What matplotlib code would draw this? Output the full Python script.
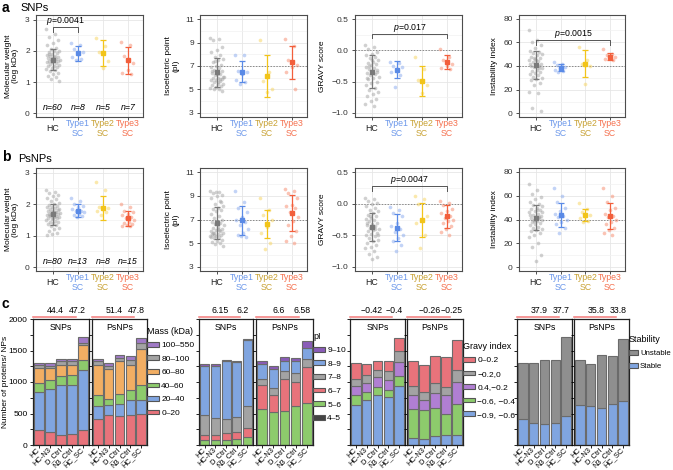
import matplotlib.pyplot as plt
import matplotlib.transforms as mtransforms
from matplotlib.patches import Patch
from matplotlib.ticker import MultipleLocator

plt.rcParams['font.family'] = ['Liberation Sans', 'DejaVu Sans']
plt.rcParams['mathtext.fontset'] = 'custom'
plt.rcParams['mathtext.it'] = 'Liberation Sans:italic'
plt.rcParams['mathtext.rm'] = 'Liberation Sans'

# ---------------- data: panels a / b (SNPs, PsNPs) ----------------
groups = ['HC', 'Type1\nSC', 'Type2\nSC', 'Type3\nSC']

mw_snps = [
    [2.7, 2.55, 2.45, 2.35, 2.25, 2.2, 2.1, 2.05, 2.0, 1.98, 1.95, 1.92, 1.9, 1.88, 1.85,
     1.82, 1.8, 1.78, 1.76, 1.75, 1.73, 1.72, 1.7, 1.68, 1.66, 1.65, 1.63, 1.6, 1.58, 1.55,
     1.52, 1.5, 1.47, 1.45, 1.42, 1.4, 1.35, 1.3, 1.25, 1.2, 1.15, 1.1, 1.05, 1.8, 1.9],
    [2.25, 2.2, 2.05, 1.95, 1.9, 1.8, 1.75, 1.72],
    [2.42, 2.15, 1.95, 1.68, 1.45],
    [2.27, 2.2, 1.85, 1.6, 1.4, 1.3, 1.25],
]
mw_snps_mean = [1.72, 1.93, 1.93, 1.70]
mw_snps_sd = [0.33, 0.24, 0.41, 0.43]

pi_snps = [
    [9.4, 9.3, 9.2, 8.6, 8.4, 8.2, 7.9, 7.8, 7.6, 7.5, 7.3, 7.1, 7.0, 6.9, 6.8, 6.7, 6.6,
     6.5, 6.4, 6.3, 6.2, 6.1, 6.0, 6.0, 5.9, 5.8, 5.8, 5.7, 5.6, 5.5, 5.5, 5.4, 5.3, 5.2,
     5.1, 5.0, 5.0, 4.9, 6.3, 6.6, 5.9, 7.4, 6.1, 5.6],
    [7.9, 7.9, 6.6, 6.5, 6.3, 5.8, 5.6, 5.5],
    [9.2, 6.5, 5.7, 5.0, 4.8],
    [9.3, 8.7, 7.5, 7.1, 6.9, 6.5, 5.0],
]
pi_snps_mean = [6.45, 6.5, 6.15, 7.3]
pi_snps_sd = [1.2, 0.9, 1.83, 1.43]

gravy_snps = [
    [0.08, 0.05, 0.02, -0.02, -0.05, -0.08, -0.1, -0.12, -0.15, -0.18, -0.2, -0.22, -0.24,
     -0.26, -0.28, -0.3, -0.32, -0.34, -0.36, -0.38, -0.4, -0.42, -0.44, -0.46, -0.5, -0.53,
     -0.56, -0.6, -0.63, -0.66, -0.7, -0.74, -0.78, -0.82, -0.86, -0.9, -0.25, -0.35, -0.15, -0.45],
    [-0.18, -0.2, -0.25, -0.27, -0.3, -0.35, -0.4, -0.58],
    [-0.1, -0.3, -0.48, -0.55, -0.68],
    [0.02, -0.1, -0.15, -0.22, -0.25, -0.28, -0.3],
]
gravy_snps_mean = [-0.34, -0.31, -0.49, -0.19]
gravy_snps_sd = [0.27, 0.14, 0.24, 0.11]

inst_snps = [
    [70, 62, 60, 58, 55, 53, 52, 51, 50, 49, 48, 47, 46, 45, 44, 43, 42, 41, 40, 40, 39, 38,
     37, 36, 35, 34, 33, 32, 31, 30, 29, 28, 26, 24, 18, 17, 5, 2, 45, 42, 38, 47],
    [43, 42, 41, 39, 38, 37, 36, 35],
    [56, 45, 42, 40, 25],
    [54, 50, 49, 48, 47, 46, 45],
]
inst_snps_mean = [41, 38.5, 42, 48]
inst_snps_sd = [12, 3, 11.5, 3]

mw_psnps = [
    [2.45, 2.4, 2.35, 2.3, 2.25, 2.2, 2.15, 2.1, 2.05, 2.0, 1.98, 1.95, 1.92, 1.9, 1.88, 1.85,
     1.83, 1.8, 1.78, 1.76, 1.75, 1.73, 1.72, 1.7, 1.68, 1.66, 1.65, 1.63, 1.62, 1.6, 1.58,
     1.56, 1.55, 1.52, 1.5, 1.48, 1.45, 1.42, 1.4, 1.38, 1.35, 1.3, 1.25, 1.2, 1.15, 1.1,
     1.05, 1.02, 1.75, 1.65, 1.85, 1.55],
    [2.2, 2.1, 2.0, 1.95, 1.9, 1.85, 1.8, 1.78, 1.75, 1.7, 1.65, 1.62, 1.6],
    [2.7, 2.45, 1.9, 1.88, 1.85, 1.8, 1.75, 1.65],
    [2.0, 1.9, 1.8, 1.75, 1.7, 1.65, 1.6, 1.55, 1.5, 1.45, 1.4, 1.38, 1.35, 1.32, 1.3],
]
mw_psnps_mean = [1.68, 1.8, 1.87, 1.55]
mw_psnps_sd = [0.33, 0.2, 0.38, 0.25]

pi_psnps = [
    [9.4, 9.3, 9.2, 9.1, 9.0, 8.8, 8.6, 8.3, 8.1, 8.0, 7.9, 7.8, 7.7, 7.5, 7.3, 7.1, 7.0,
     6.9, 6.8, 6.7, 6.6, 6.5, 6.4, 6.3, 6.2, 6.1, 6.0, 6.0, 5.9, 5.9, 5.8, 5.8, 5.7, 5.6,
     5.6, 5.5, 5.4, 5.3, 5.2, 5.1, 5.0, 4.9, 4.8, 6.2, 5.9, 8.5, 9.3, 5.5, 6.1, 5.7],
    [9.4, 8.5, 8.0, 7.6, 7.2, 7.0, 6.8, 6.5, 6.2, 5.9, 5.7, 5.5, 5.6],
    [8.8, 7.8, 7.4, 7.0, 6.4, 5.9, 5.0, 4.5],
    [9.6, 9.4, 9.2, 8.8, 8.2, 8.1, 8.0, 7.6, 7.2, 6.9, 6.5, 6.0, 5.6, 5.2, 5.0],
]
pi_psnps_mean = [6.7, 6.95, 6.6, 7.55]
pi_psnps_sd = [1.35, 1.22, 1.2, 1.55]

gravy_psnps = [
    [0.1, 0.08, 0.05, 0.02, 0.0, -0.03, -0.06, -0.1, -0.12, -0.15, -0.18, -0.2, -0.22, -0.24,
     -0.26, -0.28, -0.3, -0.32, -0.34, -0.36, -0.38, -0.4, -0.42, -0.44, -0.46, -0.48, -0.5,
     -0.52, -0.55, -0.58, -0.6, -0.62, -0.65, -0.68, -0.7, -0.75, -0.8, -0.85, -0.88, -0.3,
     -0.4, -0.2, -0.5, -0.35],
    [-0.05, -0.1, -0.15, -0.2, -0.3, -0.35, -0.4, -0.45, -0.5, -0.55, -0.6, -0.65, -0.75],
    [0.12, 0.07, 0.0, -0.2, -0.25, -0.3, -0.5, -0.7],
    [0.05, 0.02, -0.02, -0.08, -0.12, -0.15, -0.2, -0.22, -0.25, -0.27, -0.3, -0.35, -0.4,
     -0.45, -0.5],
]
gravy_psnps_mean = [-0.37, -0.38, -0.26, -0.2]
gravy_psnps_sd = [0.23, 0.22, 0.27, 0.18]

inst_psnps = [
    [70, 65, 61, 59, 57, 55, 53, 52, 51, 50, 49, 48, 47, 46, 45, 44, 43, 42, 41, 41, 40, 40,
     39, 38, 37, 36, 35, 34, 33, 32, 31, 30, 29, 27, 25, 20, 17, 10, 5, 44, 42, 39, 46, 48],
    [66, 60, 55, 50, 47, 45, 43, 42, 40, 38, 36, 33, 29],
    [54, 49, 46, 44, 43, 41, 39, 38],
    [66, 60, 55, 50, 48, 45, 43, 42, 40, 38, 36, 33, 31, 29, 27],
]
inst_psnps_mean = [41.5, 44, 44, 43]
inst_psnps_sd = [10.5, 10, 5, 11]

n_snps = [60, 8, 5, 7]
n_psnps = [80, 13, 8, 15]

# ---------------- data: panel c ----------------
conditions = ['HC', 'HC-N3', 'D_Ctrl', 'N3_Ctrl', 'HC_SC']

mass_bins = ['0–20', '20–40', '40–60', '60–80', '80–100', '100–550']
mass_snps = [[240, 208, 164, 175, 235],
             [598, 677, 792, 770, 960],
             [143, 153, 137, 159, 162],
             [236, 181, 180, 169, 231],
             [46, 38, 55, 55, 35],
             [40, 38, 38, 38, 87]]
mass_psnps = [[410, 475, 454, 481, 492],
              [202, 153, 191, 229, 218],
              [175, 110, 158, 164, 246],
              [481, 464, 536, 399, 574],
              [60, 55, 44, 82, 82],
              [38, 38, 49, 55, 82]]
mass_means = [[44.4, 47.2], [51.4, 47.8]]

pi_bins = ['4–5', '5–6', '6–7', '7–8', '8–9', '9–10']
pi_snps_c = [[5, 5, 5, 5, 5],
             [70, 70, 70, 97, 124],
             [81, 81, 108, 108, 145],
             [322, 279, 231, 242, 339],
             [780, 823, 915, 860, 1048],
             [27, 27, 16, 16, 27]]
pi_psnps_c = [[5, 5, 5, 5, 5],
              [565, 511, 527, 608, 662],
              [382, 285, 511, 392, 564],
              [91, 97, 134, 145, 135],
              [242, 306, 162, 178, 177],
              [54, 54, 64, 54, 107]]
pi_means = [[6.15, 6.2], [6.6, 6.58]]

gravy_bins = ['−0.9, −0.6', '−0.6, −0.4', '0.4,−0.2', '−0.2,0', '0–0.2']
gravy_snps_c = [[628, 710, 792, 765, 929],
                [164, 137, 126, 109, 164],
                [137, 137, 158, 164, 229],
                [120, 120, 115, 137, 164],
                [251, 180, 148, 164, 219]]
gravy_psnps_c = [[109, 98, 137, 164, 164],
                 [465, 465, 453, 328, 492],
                 [218, 147, 230, 300, 344],
                 [137, 126, 164, 126, 191],
                 [399, 432, 426, 475, 476]]
gravy_means = [[-0.42, -0.4], [-0.26, -0.25]]

stab_bins = ['Stable', 'Unstable']
stab_snps = [[410, 355, 328, 350, 464],
             [890, 940, 1022, 1000, 1257]]
stab_psnps = [[628, 612, 585, 656, 700],
              [727, 672, 847, 754, 983]]
stab_means = [[37.9, 37.7], [35.8, 33.8]]

# ---------------- style ----------------
pt_colors = ['#a3a3a3', '#86a9ef', '#f7d35a', '#f7896b']
err_colors = ['#7a7a7a', '#5a8ae6', '#f2c41a', '#f25f3c']
lab_colors = ['#222222', '#6b97ea', '#c8a132', '#f5704e']
FS = 6

W, H = 673, 470


def box(x0, y0, x1, y1):
    return [x0 / W, 1 - y1 / H, (x1 - x0) / W, (y1 - y0) / H]


fig = plt.figure(figsize=(6.73, 4.70), dpi=100)


def dot_panel(rect, data, means, sds, ylim, yticks, minor, ylabel, ticklabs,
              ref=None, bracket=None, nlab=None, nly=None):
    ax = fig.add_axes(rect)
    for k, vals in enumerate(data):
        xs = [k + ((i * 0.618034) % 1 - 0.5) * 0.55 for i in range(len(vals))]
        ax.scatter(xs, vals, s=7, color=pt_colors[k], alpha=0.5, lw=0, zorder=2)
        ax.errorbar(k, means[k], yerr=sds[k], fmt='s', ms=2.8, color=err_colors[k],
                    capsize=2.2, lw=0.9, capthick=0.9, zorder=3)
    if ref is not None:
        ax.axhline(ref, ls=(0, (1.5, 1.5)), color='#8a8a8a', lw=0.7, zorder=1)
    if bracket is not None:
        x0, x1, yl, yh, txt = bracket
        ax.plot([x0, x0, x1, x1], [yl, yh, yh, yl], color='#555555', lw=0.7, zorder=3)
        ax.text((x0 + x1) / 2, yh, txt, ha='center', va='bottom', fontsize=FS + 0.3)
    if nlab is not None:
        for k, n in enumerate(nlab):
            ax.text(k, nly, f'n={n}', ha='center', va='bottom', fontsize=FS + 0.3, style='italic')
    ax.set_xlim(-0.68, 3.6)
    ax.set_ylim(*ylim)
    ax.set_xticks(range(4))
    ax.set_xticklabels([])
    ax.set_yticks(yticks)
    ax.set_yticklabels([f'{t:g}'.replace('-', '−') if isinstance(t, int) else
                        f'{t:.1f}'.replace('-', '−') for t in yticks])
    ax.yaxis.set_minor_locator(MultipleLocator(minor))
    ax.grid(True, which='major', color='#e6e6e6', lw=0.6, zorder=0)
    ax.grid(True, which='minor', axis='y', color='#f2f2f2', lw=0.5, zorder=0)
    ax.set_axisbelow(True)
    for s in ax.spines.values():
        s.set_color('#4d4d4d')
        s.set_linewidth(0.8)
    ax.tick_params(which='major', length=2.5, width=0.6, colors='#333333', labelsize=FS, pad=2)
    ax.tick_params(which='minor', length=0)
    ax.set_ylabel(ylabel, fontsize=FS, linespacing=1.1, labelpad=4)
    trans = mtransforms.blended_transform_factory(ax.transData, ax.transAxes)
    for k, lab in enumerate(ticklabs):
        ax.text(k, -0.11, lab, transform=trans, ha='center', va='center',
                fontsize=FS + 0.3, color=lab_colors[k], linespacing=1.1)
    return ax


p = r'$p$'
for row, top, bot in [(0, 15, 117), (1, 168, 271)]:
    if row == 0:
        sets = [(mw_snps, mw_snps_mean, mw_snps_sd), (pi_snps, pi_snps_mean, pi_snps_sd),
                (gravy_snps, gravy_snps_mean, gravy_snps_sd), (inst_snps, inst_snps_mean, inst_snps_sd)]
        brackets = [(0, 1, 2.62, 2.78, p + '=0.0041'), None,
                    (0, 3, 0.2, 0.27, p + '=0.017'), (0, 3, 58, 62, p + '=0.0015')]
        ns = n_snps
    else:
        sets = [(mw_psnps, mw_psnps_mean, mw_psnps_sd), (pi_psnps, pi_psnps_mean, pi_psnps_sd),
                (gravy_psnps, gravy_psnps_mean, gravy_psnps_sd), (inst_psnps, inst_psnps_mean, inst_psnps_sd)]
        brackets = [None, None, (0, 3, 0.21, 0.29, p + '=0.0047'), None]
        ns = n_psnps
    dot_panel(box(36, top, 143, bot), *sets[0], (-0.12, 3.15), [0, 1, 2, 3], 0.5,
              'Molecular weight\n(log kDa)', groups, bracket=brackets[0], nlab=ns, nly=0.05)
    dot_panel(box(200, top, 307, bot), *sets[1], (2.65, 11.35), [3, 5, 7, 9, 11], 1,
              'Isoelectric point\n(pI)', groups, ref=7, bracket=brackets[1])
    dot_panel(box(355, top, 462, bot), *sets[2], (-1.07, 0.57), [-1.0, -0.5, 0.0, 0.5], 0.25,
              'GRAVY score', groups, ref=0, bracket=brackets[2])
    dot_panel(box(519, top, 625, bot), *sets[3], (-3, 83), [0, 20, 40, 60, 80], 10,
              'Instability index', groups, ref=40, bracket=brackets[3])

fig.text(2 / W, 1 - 8 / H, 'a', fontsize=10, fontweight='bold', va='center')
fig.text(20 / W, 1 - 8 / H, 'SNPs', fontsize=8, va='center')
fig.text(2 / W, 1 - 157 / H, 'b', fontsize=10, fontweight='bold', va='center')
fig.text(18 / W, 1 - 159 / H, 'PsNPs', fontsize=8, va='center')
fig.text(2 / W, 1 - 304 / H, 'c', fontsize=10, fontweight='bold', va='center')

# ---------------- panel c ----------------
mass_cols = ['#e8737b', '#80a5e0', '#8dcb6c', '#f2ae63', '#a3a3a3', '#a07ac6']
pi_cols = ['#444444', '#8dcb6c', '#e8737b', '#a3a3a3', '#80a5e0', '#8a5cb8']
gravy_cols = ['#80a5e0', '#8dcb6c', '#b07fd2', '#a3a3a3', '#e8737b']
stab_cols = ['#80a5e0', '#8f8f8f']


def stack_panel(rect, segs, cols, title, means, first=False):
    ax = fig.add_axes(rect)
    bottom = [0] * len(conditions)
    for vals, c in zip(segs, cols):
        ax.bar(range(len(conditions)), vals, bottom=bottom, width=0.85, color=c,
               edgecolor='#6b6b6b', lw=0.8)
        bottom = [b + v for b, v in zip(bottom, vals)]
    ax.set_xlim(-0.55, 4.55)
    ax.set_ylim(0, 2000)
    ax.set_yticks([0, 500, 1000, 1500, 2000])
    ax.yaxis.set_minor_locator(MultipleLocator(250))
    if not first:
        ax.set_yticklabels([])
    ax.set_xticks(range(len(conditions)))
    ax.set_xticklabels(conditions, rotation=45, ha='right', va='center',
                       rotation_mode='anchor', fontsize=FS - 0.6)
    ax.tick_params(axis='y', which='both', length=2, width=0.6, labelsize=FS, pad=2)
    ax.tick_params(axis='x', length=2, width=0.6, pad=1)
    for s in ax.spines.values():
        s.set_color('#222222')
        s.set_linewidth(0.9)
    ax.text(0.5, 0.93, title, transform=ax.transAxes, ha='center', va='center', fontsize=FS + 0.3)
    ax.plot([0, 0.76], [1.012, 1.012], transform=ax.transAxes, clip_on=False,
            color='#f47a7a', lw=1.1)
    ax.text(0.40, 1.028, f'{means[0]:g}'.replace('-', '−'), transform=ax.transAxes,
            ha='center', va='bottom', fontsize=FS + 0.3)
    ax.text(0.80, 1.028, f'{means[1]:g}'.replace('-', '−'), transform=ax.transAxes,
            ha='center', va='bottom', fontsize=FS + 0.3)
    return ax


def add_legend(ax, bins, cols, title, ytop, hl=1.4, fs=FS):
    handles = [Patch(facecolor=c, edgecolor='#555555', lw=0.8, label=b)
               for b, c in zip(bins, cols)][::-1]
    ax.legend(handles=handles, title=title, loc='upper left', bbox_to_anchor=(1.0, ytop),
              frameon=False, fontsize=fs, title_fontsize=FS + 0.5, handlelength=hl,
              handleheight=0.5, labelspacing=0.75, handletextpad=0.3, borderaxespad=0,
              borderpad=0, alignment='left')


yc0, yc1 = 319, 445
ax = stack_panel(box(33, yc0, 89, yc1), mass_snps, mass_cols, 'SNPs', mass_means[0], first=True)
ax.set_ylabel('Number of proteins/ NPs', fontsize=FS)
ax.yaxis.set_label_coords(-0.42, 0.5)
ax = stack_panel(box(92, yc0, 147, yc1), mass_psnps, mass_cols, 'PsNPs', mass_means[1])
add_legend(ax, mass_bins, mass_cols, 'Mass (kDa)', 0.94)

stack_panel(box(199, yc0, 253, yc1), pi_snps_c, pi_cols, 'SNPs', pi_means[0])
ax = stack_panel(box(256, yc0, 313, yc1), pi_psnps_c, pi_cols, 'PsNPs', pi_means[1])
add_legend(ax, pi_bins, pi_cols, 'pI', 0.9)

stack_panel(box(350, yc0, 405, yc1), gravy_snps_c, gravy_cols, 'SNPs', gravy_means[0])
ax = stack_panel(box(407, yc0, 463, yc1), gravy_psnps_c, gravy_cols, 'PsNPs', gravy_means[1])
add_legend(ax, gravy_bins, gravy_cols, 'Gravy index', 0.82)

stack_panel(box(517, yc0, 572, yc1), stab_snps, stab_cols, 'SNPs', stab_means[0])
ax = stack_panel(box(574, yc0, 629, yc1), stab_psnps, stab_cols, 'PsNPs', stab_means[1])
add_legend(ax, stab_bins, stab_cols, 'Stability', 0.87, hl=1.1, fs=5.6)

plt.savefig('out.png', dpi=100)
